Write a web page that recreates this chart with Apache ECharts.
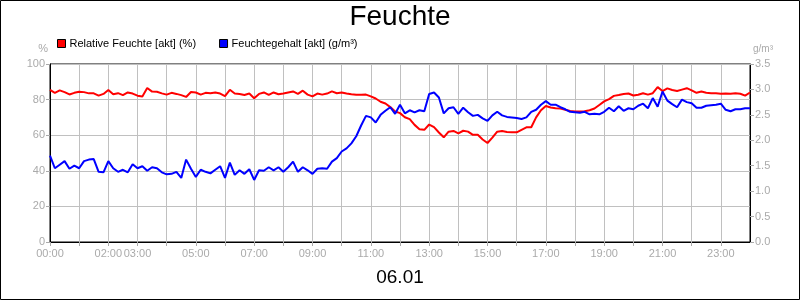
<!DOCTYPE html>
<html>
<head>
<meta charset="utf-8">
<script src="https://cdn.jsdelivr.net/npm/echarts@6/dist/echarts.min.js"></script>
<style>
html,body{margin:0;padding:0;background:#fff;}
#chart{width:800px;height:300px;}
</style>
</head>
<body>
<div id="chart"></div>
<script>
// Sample times (10-minute steps)
const times = [
"00:00","00:10","00:20","00:30","00:40","00:50",
"01:00","01:10","01:20","01:30","01:40","01:50",
"02:00","02:10","02:20","02:30","02:40","02:50",
"03:00","03:10","03:20","03:30","03:40","03:50",
"04:00","04:10","04:20","04:30","04:40","04:50",
"05:00","05:10","05:20","05:30","05:40","05:50",
"06:00","06:10","06:20","06:30","06:40","06:50",
"07:00","07:10","07:20","07:30","07:40","07:50",
"08:00","08:10","08:20","08:30","08:40","08:50",
"09:00","09:10","09:20","09:30","09:40","09:50",
"10:00","10:10","10:20","10:30","10:40","10:50",
"11:00","11:10","11:20","11:30","11:40","11:50",
"12:00","12:10","12:20","12:30","12:40","12:50",
"13:00","13:10","13:20","13:30","13:40","13:50",
"14:00","14:10","14:20","14:30","14:40","14:50",
"15:00","15:10","15:20","15:30","15:40","15:50",
"16:00","16:10","16:20","16:30","16:40","16:50",
"17:00","17:10","17:20","17:30","17:40","17:50",
"18:00","18:10","18:20","18:30","18:40","18:50",
"19:00","19:10","19:20","19:30","19:40","19:50",
"20:00","20:10","20:20","20:30","20:40","20:50",
"21:00","21:10","21:20","21:30","21:40","21:50",
"22:00","22:10","22:20","22:30","22:40","22:50",
"23:00","23:10","23:20","23:30","23:40","23:50",
"24:00"
];

// Relative Feuchte [akt] (%)
const relFeuchte = [
85.5,83.8,85.2,84.2,82.9,83.8,
84.4,84.2,83.5,83.5,82.2,83.2,
85.4,83.0,83.6,82.5,84.0,83.4,
82.2,81.8,86.5,84.5,84.4,83.5,
82.8,83.8,83.2,82.5,81.5,84.3,
84.0,82.8,83.8,83.6,84.0,83.4,
82.0,85.5,83.4,83.2,82.6,83.4,
80.8,83.2,84.0,82.6,84.0,83.0,
83.4,84.0,84.6,83.2,85.0,82.8,
81.8,83.4,82.8,83.4,84.6,83.6,
84.0,83.4,83.0,82.7,82.7,82.8,
81.8,80.6,78.8,77.8,75.8,73.3,
72.4,70.1,69.0,65.8,63.4,63.0,
66.0,64.5,61.5,58.8,62.0,62.4,
61.0,62.5,62.0,60.2,60.2,57.6,
55.6,58.6,62.0,62.3,61.8,61.6,
61.6,63.0,64.4,64.5,70.0,74.0,
76.4,75.6,75.2,75.0,74.3,73.6,
73.3,73.3,73.5,74.0,75.0,77.0,
79.0,80.3,82.1,82.6,83.2,83.4,
82.3,82.7,83.6,82.8,83.6,87.0,
84.8,86.3,85.4,84.8,85.6,86.4,
85.2,83.8,84.5,83.8,83.6,83.6,
83.3,83.4,83.3,83.6,83.3,82.2,
84.0
];

// Feuchtegehalt [akt] (g/m³)
const feuchtegehalt = [
1.70,1.45,1.52,1.59,1.44,1.50,
1.45,1.59,1.62,1.63,1.38,1.37,
1.59,1.45,1.38,1.42,1.37,1.53,
1.45,1.49,1.40,1.47,1.45,1.37,
1.33,1.34,1.38,1.26,1.62,1.44,
1.28,1.42,1.38,1.35,1.42,1.49,
1.26,1.56,1.32,1.41,1.34,1.43,
1.22,1.41,1.40,1.47,1.41,1.47,
1.38,1.47,1.58,1.38,1.47,1.41,
1.34,1.44,1.45,1.44,1.58,1.65,
1.78,1.84,1.94,2.08,2.29,2.48,
2.45,2.35,2.50,2.58,2.65,2.52,
2.70,2.53,2.59,2.55,2.59,2.57,
2.91,2.94,2.84,2.53,2.63,2.65,
2.52,2.64,2.55,2.48,2.50,2.43,
2.38,2.49,2.56,2.49,2.46,2.45,
2.44,2.42,2.45,2.56,2.60,2.70,
2.77,2.70,2.70,2.65,2.61,2.56,
2.55,2.54,2.56,2.51,2.52,2.51,
2.56,2.64,2.57,2.67,2.58,2.63,
2.61,2.68,2.72,2.63,2.83,2.66,
2.96,2.78,2.71,2.65,2.80,2.75,
2.73,2.64,2.64,2.68,2.69,2.70,
2.72,2.60,2.57,2.61,2.61,2.63,
2.63
];

// x-axis tick labels shown
const xTickLabels = ["00:00","02:00","03:00","05:00","07:00","09:00","11:00","13:00","15:00","17:00","19:00","21:00","23:00"];

const seriesNames = ["Relative Feuchte [akt] (%)", "Feuchtegehalt [akt] (g/m³)"];
const chartTitle = "Feuchte";
const dateLabel = "06.01";

const toHours = t => parseInt(t.slice(0,2),10) + parseInt(t.slice(3),10)/60;
const fmtHour = h => (h < 10 ? "0" : "") + h + ":00";

const grey = "#aaaaaa";
const gridGrey = "#c0c0c0";
const font = "Liberation Sans, Arial, sans-serif";

const chart = echarts.init(document.getElementById('chart'), null, {renderer:'canvas'});
chart.setOption({
  animation: false,
  backgroundColor: '#fff',
  textStyle: {fontFamily: font},
  title: [
    {text: chartTitle, left: 'center', top: 3, padding: 0,
     textStyle: {fontFamily: font, fontSize: 28, fontWeight: 'normal', color: '#000'}},
    {text: dateLabel, left: 'center', top: 268, padding: 0,
     textStyle: {fontFamily: font, fontSize: 19, fontWeight: 'normal', color: '#000'}}
  ],
  legend: {
    left: 57, top: 38, padding: 0,
    itemWidth: 8, itemHeight: 8, itemGap: 23,
    icon: 'rect',
    textStyle: {fontFamily: font, fontSize: 11, color: '#000', padding: [0,0,0,-1]},
    data: seriesNames.map((n, i) => ({name: n, itemStyle: {color: i === 0 ? '#ff0000' : '#0000ff', borderColor: '#000', borderWidth: 1}}))
  },
  grid: {left: 50, right: 50, top: 64, bottom: 58, show: true, borderColor: '#000', borderWidth: 1, backgroundColor: 'transparent'},
  xAxis: {
    type: 'value', min: 0, max: 24, interval: 1,
    axisLine: {show: true, lineStyle: {color: '#000', width: 1}},
    axisTick: {show: true, length: 4, lineStyle: {color: grey}},
    splitLine: {show: true, lineStyle: {color: gridGrey, width: 1}},
    axisLabel: {
      color: grey, fontSize: 11, fontFamily: font, margin: 6, showMinLabel: true, showMaxLabel: false,
      formatter: v => { const s = fmtHour(Math.round(v)); return xTickLabels.indexOf(s) >= 0 ? s : ''; }
    }
  },
  yAxis: [
    {
      type: 'value', min: 0, max: 100, interval: 20, position: 'left',
      name: '%', nameGap: 10,
      nameTextStyle: {color: grey, fontSize: 11, fontFamily: font, align: 'right', padding: [0, 2, 0, 0]},
      axisLine: {show: true, lineStyle: {color: '#000'}},
      axisTick: {show: true, length: 4, lineStyle: {color: grey}},
      splitLine: {show: true, lineStyle: {color: gridGrey, width: 1}},
      axisLabel: {color: grey, fontSize: 11, fontFamily: font, margin: 5}
    },
    {
      type: 'value', min: 0, max: 3.5, interval: 0.5, position: 'right',
      name: 'g/m³', nameGap: 10,
      nameTextStyle: {color: grey, fontSize: 10, fontFamily: font, align: 'left', padding: [0, 0, 0, 3]},
      axisLine: {show: true, lineStyle: {color: '#000'}},
      axisTick: {show: true, length: 4, lineStyle: {color: grey}},
      splitLine: {show: false},
      axisLabel: {color: grey, fontSize: 11, fontFamily: font, margin: 5, formatter: v => v.toFixed(1)}
    }
  ],
  series: [
    {
      name: seriesNames[0], type: 'line', yAxisIndex: 0, showSymbol: false, symbol: 'none',
      lineStyle: {color: '#ff0000', width: 2}, itemStyle: {color: '#ff0000'},
      data: times.map((t, i) => [toHours(t), relFeuchte[i]])
    },
    {
      name: seriesNames[1], type: 'line', yAxisIndex: 1, showSymbol: false, symbol: 'none',
      lineStyle: {color: '#0000ff', width: 2}, itemStyle: {color: '#0000ff'},
      data: times.map((t, i) => [toHours(t), feuchtegehalt[i]])
    }
  ],
  graphic: [
    {type: 'rect', shape: {x: 0.5, y: 0.5, width: 799, height: 299}, style: {fill: 'none', stroke: '#000', lineWidth: 1}, silent: true, z: 100}
  ]
});
</script>
</body>
</html>
